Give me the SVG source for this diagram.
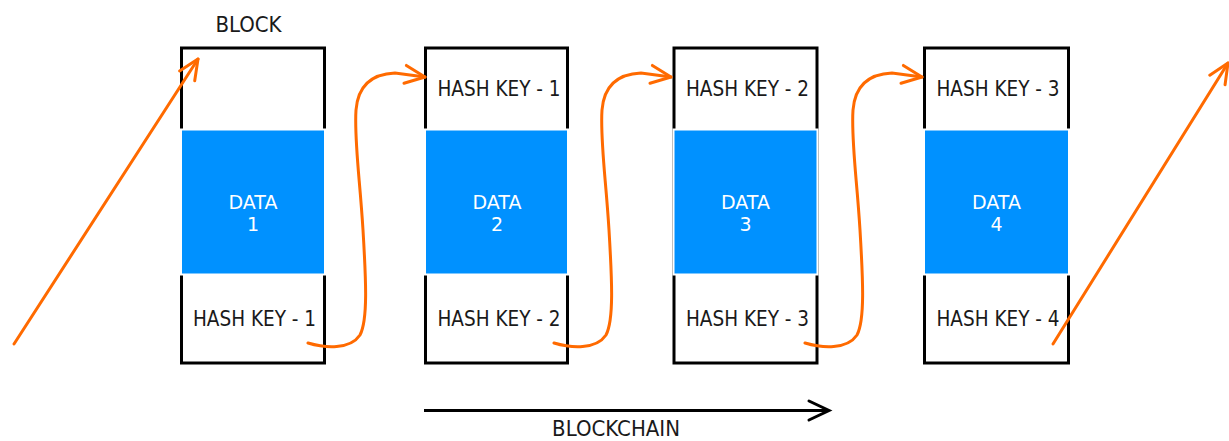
<svg xmlns="http://www.w3.org/2000/svg" width="1229" height="441" viewBox="0 0 1229 441">
<style>
.box{fill:#fff;stroke:#000;stroke-width:3}
.data{fill:#0091FF;stroke:#fff;stroke-width:2}
.t{font-family:"DejaVu Sans Condensed","DejaVu Sans",sans-serif;font-size:20.5px;fill:#1a1a1a;text-anchor:middle}
.w{font-family:"DejaVu Sans",sans-serif;font-size:19px;fill:#fff;text-anchor:middle}
.lbl{font-family:"DejaVu Sans Condensed","DejaVu Sans",sans-serif;font-size:22px;fill:#1a1a1a;text-anchor:middle}
.o{fill:none;stroke:#FF6A00;stroke-width:3;stroke-linecap:round}
</style>
<defs>
<marker id="ao" markerUnits="userSpaceOnUse" markerWidth="30" markerHeight="30" viewBox="-25 -15 30 30" refX="0" refY="0" orient="auto">
<path d="M-20,-9 L0,0 L-20,9" fill="none" stroke="#FF6A00" stroke-width="3" stroke-linecap="round" stroke-linejoin="round"/>
</marker>
<marker id="ab" markerUnits="userSpaceOnUse" markerWidth="30" markerHeight="30" viewBox="-25 -15 30 30" refX="0" refY="0" orient="auto">
<path d="M-20,-9.5 L0,0 L-20,9.5" fill="none" stroke="#000" stroke-width="3" stroke-linecap="round" stroke-linejoin="miter"/>
</marker>
<path id="curve" d="M308,343 C325,348 350,350 360,335 C368,320 366,280 363,230 C360,180 354,140 356,110 C358,85 372,74 395,73 L425,77"/>
</defs>
<text class="lbl" x="248.5" y="32">BLOCK</text>
<g id="block1">
<rect class="box" x="181.5" y="48" width="143" height="315"/>
<rect class="data" x="181" y="129.5" width="144" height="145"/>
<text class="w" x="253" y="208.5">DATA</text>
<text class="w" x="253" y="231">1</text>
<text class="t" x="254.5" y="325.5">HASH KEY - 1</text>
</g>
<g id="block2">
<rect class="box" x="425.5" y="48" width="142" height="315"/>
<rect class="data" x="425" y="129.5" width="143" height="145"/>
<text class="t" x="499" y="95.5">HASH KEY - 1</text>
<text class="w" x="497" y="208.5">DATA</text>
<text class="w" x="497" y="231">2</text>
<text class="t" x="499" y="325.5">HASH KEY - 2</text>
</g>
<g id="block3">
<rect class="box" x="674" y="48" width="143" height="315"/>
<rect class="data" x="673.5" y="129.5" width="144" height="145"/>
<text class="t" x="747.5" y="95.5">HASH KEY - 2</text>
<text class="w" x="745.5" y="208.5">DATA</text>
<text class="w" x="745.5" y="231">3</text>
<text class="t" x="747.5" y="325.5">HASH KEY - 3</text>
</g>
<g id="block4">
<rect class="box" x="924.5" y="48" width="144" height="315"/>
<rect class="data" x="924" y="129.5" width="145" height="145"/>
<text class="t" x="998" y="95.5">HASH KEY - 3</text>
<text class="w" x="996.5" y="208.5">DATA</text>
<text class="w" x="996.5" y="231">4</text>
<text class="t" x="998" y="325.5">HASH KEY - 4</text>
</g>
<g id="connectors">
<line class="o" x1="14" y1="344" x2="198" y2="59" marker-end="url(#ao)"/>
<use href="#curve" class="o" marker-end="url(#ao)"/>
<use href="#curve" class="o" transform="translate(246,0)" marker-end="url(#ao)"/>
<use href="#curve" class="o" transform="translate(497,0)" marker-end="url(#ao)"/>
<line class="o" x1="1053" y1="344" x2="1228" y2="63" marker-end="url(#ao)"/>
<line x1="424" y1="410.5" x2="829" y2="410.5" stroke="#000" stroke-width="3" marker-end="url(#ab)"/>
</g>
<text class="lbl" x="616" y="436">BLOCKCHAIN</text>
</svg>
